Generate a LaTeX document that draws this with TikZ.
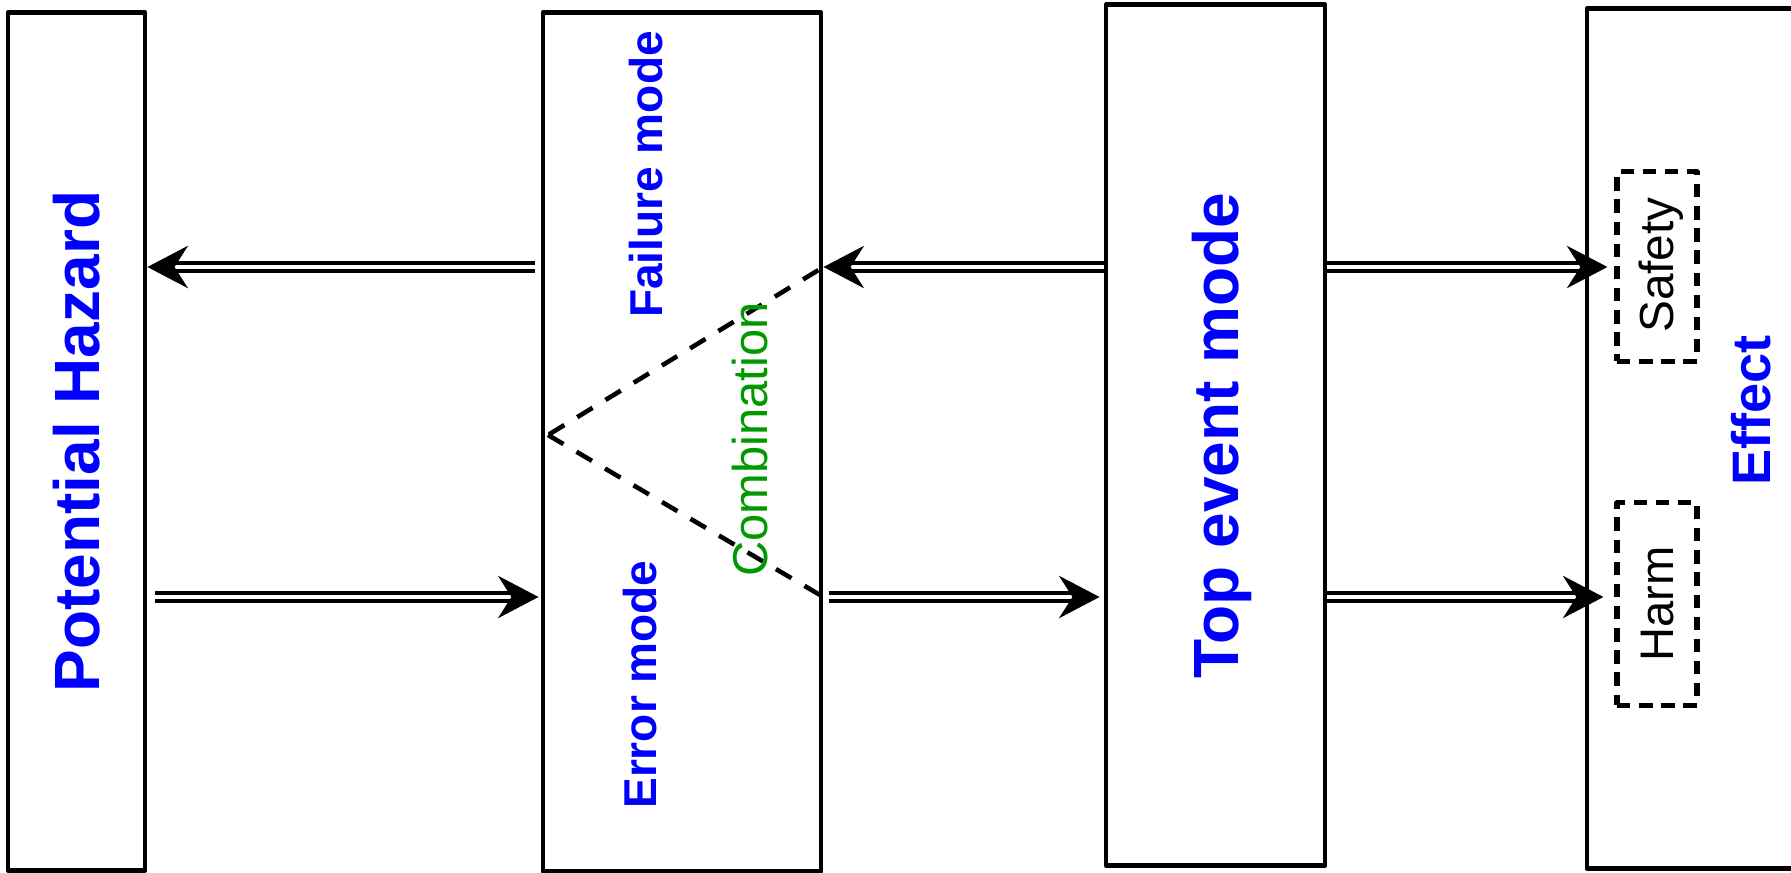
\documentclass[tikz,border=0pt]{standalone}
\usepackage{fontspec}
\setmainfont{Liberation Sans}
\usetikzlibrary{arrows.meta}
\definecolor{labelblue}{RGB}{0,0,255}
\definecolor{combgreen}{RGB}{0,153,0}

\begin{document}
\begin{tikzpicture}[x=0.01cm, y=0.01cm,
    block/.style={draw, line width=1.35pt, line join=round, inner sep=0pt, minimum height=8.58cm},
    tag/.style={draw, dashed, dash pattern=on 3.8pt off 2.5pt, line width=1.45pt, line join=round, inner sep=0pt, minimum width=0.80cm},
    dbl/.style={double, double distance=1pt, line width=1.2pt, -{Stealth[length=11.5pt, width=12pt, inset=3.8pt]}},
    comb/.style={dash pattern=on 5.1pt off 4.3pt, line width=1.3pt},
    head/.style={rotate=90, anchor=base, inner sep=0pt, text=labelblue, font=\fontsize{#1}{#1}\selectfont\bfseries},
    note/.style={rotate=90, anchor=base, inner sep=0pt, font=\fontsize{#1}{#1}\selectfont}
  ]
  \useasboundingbox (0,0) rectangle (1791,872);
  \clip (0,0) rectangle (1791,872);

  % the four columns
  \node[block, minimum width=1.37cm, minimum height=8.57cm] (hazard) at (76.5,430.5) {};
  \node[block, minimum width=2.78cm] (modes) at (682,430) {};
  \node[block, minimum width=2.19cm, minimum height=8.60cm] (top) at (1215.5,437) {};
  \node[block, minimum width=2.63cm, minimum height=8.59cm] (effect) at (1718.5,433.5) {};

  \node[tag, minimum height=1.89cm] (safety) at (1657,605.5) {};
  \node[tag, minimum height=2.02cm] (harm) at (1657,268) {};

  % rows of the arrows
  \coordinate (upper) at (0,605);
  \coordinate (lower) at (0,275);
  \coordinate (apex) at (548,437);

  \draw[dbl, shorten <=0.06cm] (modes.west |- upper) -- (hazard.east |- upper);
  \draw[dbl, shorten <=0.08cm, shorten >=0.02cm] (hazard.east |- lower) -- (modes.west |- lower);
  \draw[dbl] (top.west |- upper) -- (modes.east |- upper);
  \draw[dbl, shorten <=0.06cm, shorten >=0.04cm] (modes.east |- lower) -- (top.west |- lower);
  \draw[dbl, shorten >=0.07cm] (top.east |- upper) -- (safety.west |- upper);
  \draw[dbl, shorten >=0.11cm] (top.east |- lower) -- (harm.west |- lower);

  \draw[comb, shorten <=0.06cm] (modes.east |- upper) -- (apex);
  \draw[comb, shorten >=0.04cm] (apex) -- (modes.east |- lower);

  % labels
  \node[head=18.2] (hazardtxt) at (99,430.5) {Potential Hazard};
  \node[head=13.1] (failtxt) at (662,697.5) {Failure mode};
  \node[head=13.1] (errtxt) at (656,187.5) {Error mode};
  \node[note=13.9, text=combgreen] (combtxt) at (767,432.5) {Combination};
  \node[head=18.2] (toptxt) at (1238,436.5) {Top event mode};
  \node[head=15.4] (effecttxt) at (1770,461.5) {Effect};
  \node[note=13.6] (safetytxt) at (1673,607) {Safety};
  \node[note=13.4] (harmtxt) at (1673,268) {Harm};
\end{tikzpicture}
\end{document}
